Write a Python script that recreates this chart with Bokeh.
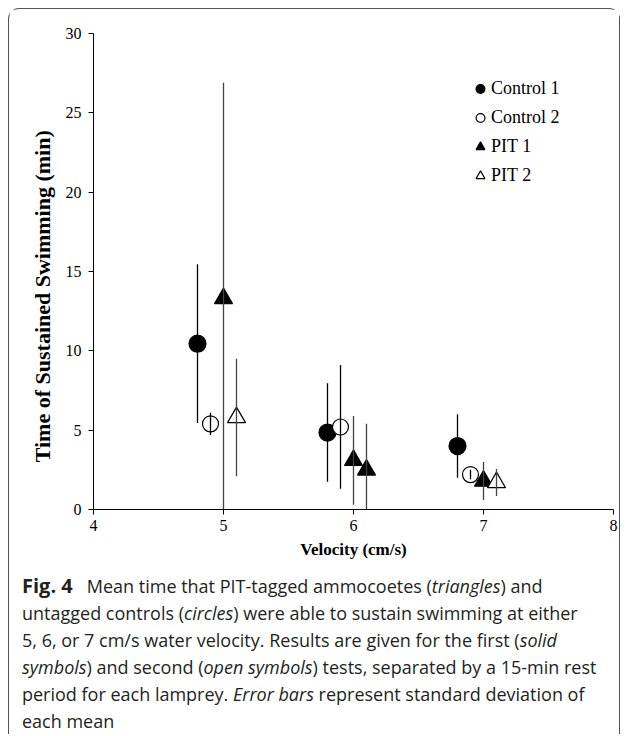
from bokeh.plotting import figure
from bokeh.models import ColumnDataSource, Legend, LegendItem, Range1d, FixedTicker, Div
from bokeh.layouts import column
from bokeh.embed import file_html
from bokeh.resources import INLINE

# ---- data ----
x_ticks = [4, 5, 6, 7, 8]
y_ticks = [0, 5, 10, 15, 20, 25, 30]

velocity_c1 = [4.8, 5.8, 6.8]
time_c1 = [10.45, 4.85, 4.0]
sd_c1 = [5.0, 3.1, 2.0]

velocity_c2 = [4.9, 5.9, 6.9]
time_c2 = [5.4, 5.2, 2.2]
sd_c2 = [0.7, 3.9, 0.3]

velocity_p1 = [5.0, 6.0, 7.0]
time_p1 = [13.3, 3.1, 1.8]
sd_p1 = [13.6, 2.8, 1.2]

velocity_p2 = [5.1, 6.1, 7.1]
time_p2 = [5.8, 2.5, 1.7]
sd_p2 = [3.7, 2.9, 0.85]
p2_symbol = ["open", "solid", "open"]

SERIF = "Liberation Serif"


def make_source(xs, ys, sds, fills):
    return ColumnDataSource(dict(
        x=xs, y=ys,
        lo=[y - s for y, s in zip(ys, sds)],
        hi=[y + s for y, s in zip(ys, sds)],
        fill=fills,
    ))


src_c1 = make_source(velocity_c1, time_c1, sd_c1, ["black"] * 3)
src_c2 = make_source(velocity_c2, time_c2, sd_c2, ["white"] * 3)
src_p1 = make_source(velocity_p1, time_p1, sd_p1, ["black"] * 3)
src_p2 = make_source(velocity_p2, time_p2, sd_p2,
                     ["black" if s == "solid" else "white" for s in p2_symbol])

p = figure(width=610, height=555,
           x_range=Range1d(4, 8), y_range=Range1d(0, 30),
           output_backend="svg", toolbar_location=None,
           min_border_left=84, min_border_right=6,
           min_border_top=24, min_border_bottom=55)
p.outline_line_color = None
p.xgrid.visible = False
p.ygrid.visible = False
p.background_fill_color = "white"
p.border_fill_color = "white"

for ax in (p.xaxis[0], p.yaxis[0]):
    ax.axis_line_color = "black"
    ax.axis_line_width = 1
    ax.major_tick_line_color = "black"
    ax.major_tick_in = 0
    ax.major_tick_out = 5
    ax.minor_tick_line_color = None
    ax.major_label_text_font = SERIF
    ax.major_label_text_font_size = "16px"
    ax.major_label_text_color = "black"
    ax.axis_label_text_font = SERIF
    ax.axis_label_text_font_style = "bold"
    ax.axis_label_text_color = "black"

p.xaxis.ticker = FixedTicker(ticks=x_ticks)
p.yaxis.ticker = FixedTicker(ticks=y_ticks)
p.xaxis.axis_label = "Velocity (cm/s)"
p.xaxis.axis_label_text_font_size = "17px"
p.xaxis.major_label_standoff = 5
p.yaxis.major_label_standoff = 7
p.xaxis.axis_label_standoff = 6

# y-axis title; trailing no-break spaces push the visible words a little
# below the frame centre, as in the original
p.yaxis.axis_label = "Time of Sustained Swimming (min)" + "\u00a0" * 9
p.yaxis.axis_label_text_font_size = "22px"
p.yaxis.axis_label_standoff = 8

# markers
r_c1 = p.scatter("x", "y", source=src_c1, marker="circle", size=17,
                 fill_color="fill", line_color="black", line_width=1.2)
r_c2 = p.scatter("x", "y", source=src_c2, marker="circle", size=16,
                 fill_color="fill", line_color="black", line_width=1.2)
r_p1 = p.scatter("x", "y", source=src_p1, marker="triangle", size=18,
                 fill_color="fill", line_color="black", line_width=1.2)
r_p2 = p.scatter("x", "y", source=src_p2, marker="triangle", size=18,
                 fill_color="fill", line_color="black", line_width=1.2)

# error bars (standard deviation)
p.segment(x0="x", y0="lo", x1="x", y1="hi", source=src_c1, line_color="black", line_width=1.3)
p.segment(x0="x", y0="lo", x1="x", y1="hi", source=src_c2, line_color="black", line_width=1.3)
p.segment(x0="x", y0="lo", x1="x", y1="hi", source=src_p1, line_color="#444444", line_width=1.3)
p.segment(x0="x", y0="lo", x1="x", y1="hi", source=src_p2, line_color="#444444", line_width=1.3)

legend = Legend(items=[
    LegendItem(label="Control 1", renderers=[r_c1], index=0),
    LegendItem(label="Control 2", renderers=[r_c2], index=0),
    LegendItem(label="PIT 1", renderers=[r_p1], index=0),
    LegendItem(label="PIT 2", renderers=[r_p2], index=0),
], location=(376, 319), glyph_width=22, glyph_height=29, label_height=29,
    spacing=0, padding=0, margin=0, label_standoff=0,
    border_line_color=None, background_fill_alpha=0,
    label_text_font=SERIF, label_text_font_size="18px", label_text_color="black")
p.add_layout(legend)

caption_html = (
    "<b style='font-size:20px'>Fig.&nbsp;4</b>&nbsp;&nbsp;&nbsp;Mean time that PIT-tagged ammocoetes (<i>triangles</i>) and<br>"
    "untagged controls (<i>circles</i>) were able to sustain swimming at either<br>"
    "5, 6, or 7 cm/s water velocity. Results are given for the first (<i>solid</i><br>"
    "<i>symbols</i>) and second (<i>open symbols</i>) tests, separated by a 15-min rest<br>"
    "period for each lamprey. <i>Error bars</i> represent standard deviation of<br>"
    "each mean"
)
cap = Div(text=caption_html, width=597, height=162, margin=(8, 0, 0, 13),
          styles={"font-family": "'Open Sans'", "font-size": "18px",
                  "line-height": "27px", "color": "#231f20",
                  "white-space": "nowrap"})

layout = column(p, cap, spacing=0, margin=(8, 0, 0, 8),
                styles={"border": "1px solid #555555", "border-bottom": "none",
                        "border-radius": "11px 11px 0 0", "background": "white"})

open("out.html", "w").write(file_html(layout, INLINE))
